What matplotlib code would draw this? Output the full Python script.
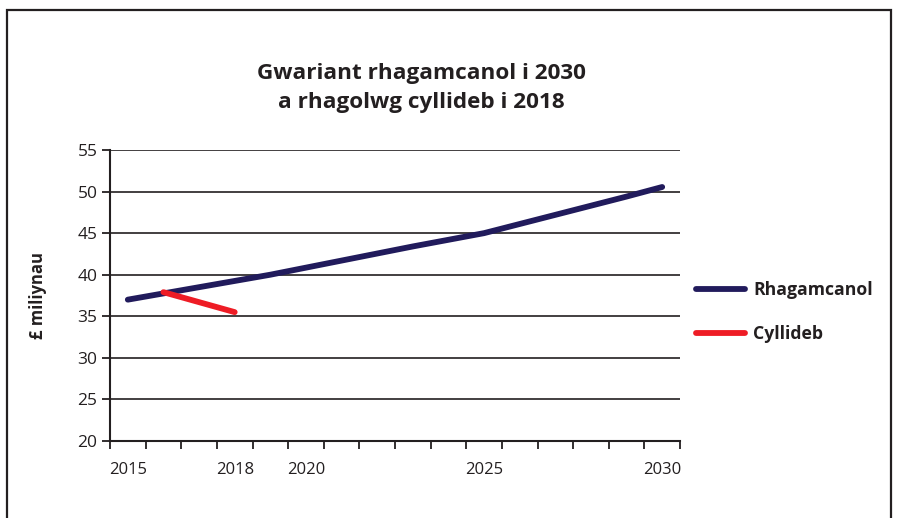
import numpy as np
import matplotlib
matplotlib.use("Agg")
from matplotlib import pyplot as plt
from matplotlib.patches import Rectangle
from matplotlib.lines import Line2D

# data
years = list(range(2015, 2031))
shown_labels = {2015: "2015", 2018: "2018", 2020: "2020", 2025: "2025", 2030: "2030"}
rhagamcanol = [37.0, 37.75, 38.5, 39.25, 40.0, 40.85, 41.7, 42.55, 43.4, 44.2,
               45.0, 46.1, 47.2, 48.3, 49.4, 50.55]
cyllideb_years = [2016, 2017, 2018]
cyllideb = [37.9, 36.7, 35.5]

NAVY = "#211b5c"
RED = "#ee1c25"
INK = "#231f20"

plt.rcParams['font.family'] = ['Open Sans', 'DejaVu Sans']

fig = plt.figure(figsize=(8.98, 5.18), dpi=100)
ax = fig.add_axes([110 / 898, 1 - 441 / 518, 570 / 898, 291 / 518])

# category axis: each year sits in the middle of its slot
pos = {y: i + 0.5 for i, y in enumerate(years)}
ax.plot([pos[y] for y in years], rhagamcanol, color=NAVY, lw=4.2,
        solid_capstyle='round', label="Rhagamcanol", zorder=3)
ax.plot([pos[y] for y in cyllideb_years], cyllideb, color=RED, lw=4.2,
        solid_capstyle='round', label="Cyllideb", zorder=4)

ax.set_xlim(0, len(years))
ax.set_ylim(20, 55)
ax.set_yticks(np.arange(20, 56, 5))
ax.set_xticks(np.arange(0, len(years) + 1), minor=False)
ax.set_xticklabels([])
ax.set_xticks([pos[y] for y in shown_labels], minor=True)
ax.set_xticklabels(list(shown_labels.values()), minor=True)
ax.tick_params(axis='x', which='minor', length=0, pad=15, labelsize=12)
ax.tick_params(axis='x', which='major', length=6, width=1.3, direction='out', color=INK)
ax.tick_params(axis='y', length=6, width=1.3, direction='out', color=INK,
               labelsize=12.5, pad=3)
for lab in ax.get_xticklabels(minor=True) + ax.get_yticklabels():
    lab.set_color(INK)

ax.grid(axis='y', color=INK, lw=1.2)
ax.set_axisbelow(True)
for s in ['top', 'right']:
    ax.spines[s].set_visible(False)
for s in ['left', 'bottom']:
    ax.spines[s].set_color(INK)
    ax.spines[s].set_linewidth(1.5)

ax.set_ylabel("£ miliynau", fontsize=12, fontweight='bold', labelpad=22, color=INK)

fig.text(421 / 898, 1 - 88 / 518, "Gwariant rhagamcanol i 2030\na rhagolwg cyllideb i 2018",
         ha='center', va='center', fontsize=16.2, fontweight='bold', linespacing=1.55,
         color=INK)

handles = [Line2D([], [], color=NAVY, lw=4.2, solid_capstyle='round'),
           Line2D([], [], color=RED, lw=4.2, solid_capstyle='round')]
fig.legend(handles, ["Rhagamcanol", "Cyllideb"], loc='center left',
           bbox_to_anchor=(680 / 898, 1 - 312 / 518), frameon=False,
           prop={'weight': 'bold', 'size': 12.7}, handlelength=2.8,
           handletextpad=0.45, labelspacing=1.5, labelcolor=INK)

# outer frame, bottom edge runs off the image
fig.patches.append(Rectangle((7 / 898, -0.05), 884 / 898, 1.05 - 10 / 518,
                             transform=fig.transFigure, fill=False,
                             edgecolor=INK, lw=1.6))

fig.savefig("out.png", dpi=100)
